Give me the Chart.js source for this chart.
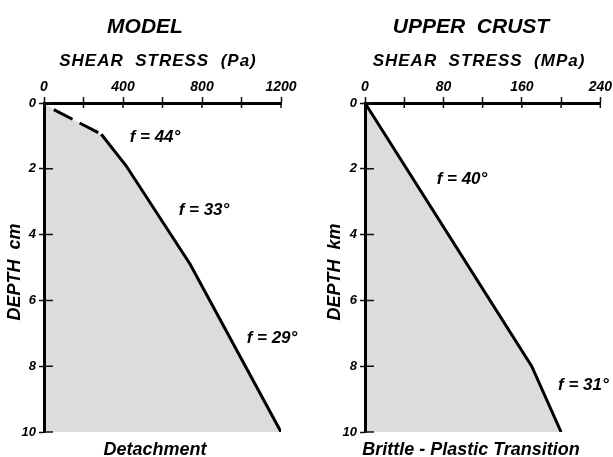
<!DOCTYPE html>
<html>
<head>
<meta charset="utf-8">
<script src="https://cdn.jsdelivr.net/npm/chart.js@4/dist/chart.umd.min.js"></script>
<style>
  html, body { margin: 0; padding: 0; background: #fff; }
  body { position: relative; width: 613px; height: 457px; overflow: hidden; }
  canvas { position: absolute; top: 0; }
  #modelChart { left: 0; }
  #crustChart { left: 306px; }
</style>
</head>
<body>
<canvas id="modelChart" width="306" height="457"></canvas>
<canvas id="crustChart" width="307" height="457"></canvas>
<script>
// model (sandbox experiment): shear stress in Pa vs depth in cm
const modelStress = [50, 290, 415, 740, 1200];
const modelDepth = [0.2, 0.95, 1.9, 4.9, 10];
const modelTickLabels = [0, 400, 800, 1200];
const modelAngles = ["f = 44°", "f = 33°", "f = 29°"];

// upper crust: shear stress in MPa vs depth in km
const crustStress = [0, 170, 200];
const crustDepth = [0, 8, 10];
const crustTickLabels = [0, 80, 160, 240];
const crustAngles = ["f = 40°", "f = 31°"];

const depthTicks = [0, 2, 4, 6, 8, 10];

const FONT = "'Liberation Sans', Arial, Helvetica, sans-serif";
Chart.defaults.font.family = FONT;
Chart.defaults.color = "#000";

function toPoints(xs, ys) {
  return xs.map((x, i) => ({ x: x, y: ys[i] }));
}

// draws the inner half of the tick marks (Chart.js only draws outward)
const innerTicks = {
  id: "innerTicks",
  afterDraw(chart) {
    const c = chart.ctx;
    const { x, y } = chart.scales;
    c.save();
    c.strokeStyle = "#111";
    c.lineWidth = 1.5;
    c.beginPath();
    x.ticks.forEach((t) => {
      const px = x.getPixelForValue(t.value);
      c.moveTo(px, chart.chartArea.top);
      c.lineTo(px, chart.chartArea.top + 5);
    });
    y.ticks.forEach((t) => {
      const py = y.getPixelForValue(t.value);
      c.moveTo(chart.chartArea.left, py);
      c.lineTo(chart.chartArea.left + 9, py);
    });
    c.stroke();
    c.restore();
  },
};

// free text: titles, axis names, friction angles
const texts = {
  id: "texts",
  afterDraw(chart, args, opts) {
    const c = chart.ctx;
    c.save();
    c.fillStyle = "#000";
    (opts.items || []).forEach((t) => {
      c.font = "italic bold " + t.size + "px " + FONT;
      c.letterSpacing = (t.spacing || 0) + "px";
      c.textAlign = t.align || "center";
      c.textBaseline = "middle";
      if (t.rotate) {
        c.save();
        c.translate(t.x, t.y);
        c.rotate(-Math.PI / 2);
        c.fillText(t.text, 0, 0);
        c.restore();
      } else {
        c.fillText(t.text, t.x, t.y);
      }
    });
    c.restore();
  },
};

function makeChart(id, cfg) {
  const W = document.getElementById(id).width;
  const tickFont = { size: 14, weight: "bold", style: "italic" };
  const datasets = [
    {
      // profile line, drawn on top
      data: toPoints(cfg.xs, cfg.ys),
      order: 0,
      borderColor: "#000",
      borderWidth: 3,
      borderJoinStyle: "miter",
      fill: false,
      pointRadius: 0,
      segment: {
        borderDash: (ctx) => (cfg.dashFirst && ctx.p0DataIndex === 0 ? [21, 8] : undefined),
      },
    },
    {
      // grey area under the profile
      data: toPoints(cfg.fillX, cfg.fillY),
      order: 1,
      borderWidth: 0,
      borderColor: "rgba(0,0,0,0)",
      backgroundColor: "#dcdcdc",
      fill: "origin",
      pointRadius: 0,
    },
  ];

  return new Chart(document.getElementById(id), {
    type: "line",
    data: { datasets: datasets },
    options: {
      indexAxis: "y",
      responsive: false,
      animation: false,
      layout: { padding: { left: 0, top: 0, right: W - cfg.right, bottom: 25 } },
      plugins: {
        legend: { display: false },
        tooltip: { enabled: false },
        texts: { items: cfg.texts },
      },
      scales: {
        x: {
          type: "linear",
          position: "top",
          min: 0,
          max: cfg.max,
          border: { color: "#000", width: 3, z: 1 },
          grid: { drawOnChartArea: false, tickLength: 6, tickColor: "#111", tickWidth: 1.5, z: 1 },
          ticks: {
            stepSize: cfg.step,
            autoSkip: false,
            maxRotation: 0,
            padding: 1,
            font: tickFont,
            callback: (v) => (cfg.tickLabels.includes(v) ? String(v) : ""),
          },
          afterFit: (s) => { s.height = 103; },
        },
        y: {
          type: "linear",
          position: "left",
          reverse: true,
          min: 0,
          max: 10,
          border: { color: "#000", width: 3, z: 1 },
          grid: { drawOnChartArea: false, tickLength: 5, tickColor: "#111", tickWidth: 1.5, z: 1 },
          ticks: {
            stepSize: 2,
            autoSkip: false,
            padding: 3,
            font: { size: 13, weight: "bold", style: "italic" },
            callback: (v) => (depthTicks.includes(v) ? String(v) : ""),
          },
          afterFit: (s) => { s.width = cfg.left; },
        },
      },
    },
    plugins: [innerTicks, texts],
  });
}

makeChart("modelChart", {
  left: 44,
  right: 281,
  max: 1200,
  step: 200,
  tickLabels: modelTickLabels,
  fillX: [0].concat(modelStress),
  fillY: [0].concat(modelDepth),
  xs: modelStress,
  ys: modelDepth,
  dashFirst: true,
  texts: [
    { text: "MODEL", x: 145, y: 27, size: 21 },
    { text: "SHEAR  STRESS  (Pa)", x: 158, y: 61, size: 17, spacing: 1 },
    { text: "DEPTH  cm", x: 15, y: 272, size: 18, rotate: true },
    { text: "Detachment", x: 155, y: 450, size: 18 },
    { text: modelAngles[0], x: 155, y: 137, size: 17 },
    { text: modelAngles[1], x: 204, y: 210, size: 17 },
    { text: modelAngles[2], x: 272, y: 338, size: 17 },
  ],
});

makeChart("crustChart", {
  left: 59,
  right: 297,
  max: 240,
  step: 40,
  tickLabels: crustTickLabels,
  fillX: crustStress,
  fillY: crustDepth,
  xs: crustStress,
  ys: crustDepth,
  dashFirst: false,
  texts: [
    { text: "UPPER  CRUST", x: 165, y: 27, size: 21 },
    { text: "SHEAR  STRESS  (MPa)", x: 173, y: 61, size: 17, spacing: 1 },
    { text: "DEPTH  km", x: 29, y: 272, size: 18, rotate: true },
    { text: "Brittle - Plastic Transition", x: 165, y: 450, size: 18 },
    { text: crustAngles[0], x: 156, y: 179, size: 17 },
    { text: crustAngles[1], x: 252, y: 385, size: 17, align: "left" },
  ],
});
</script>
</body>
</html>
